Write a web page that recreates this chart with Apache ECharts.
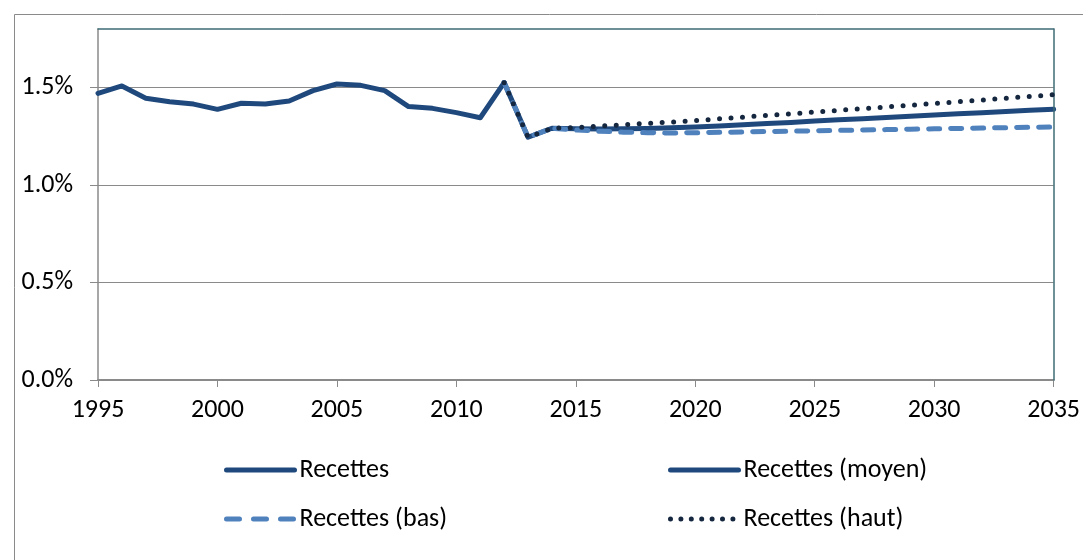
<!DOCTYPE html>
<html>
<head>
<meta charset="utf-8">
<style>
  html, body { margin: 0; padding: 0; background: #ffffff; }
  #chart { width: 1083px; height: 560px; }
</style>
<script src="https://cdn.jsdelivr.net/npm/echarts@6/dist/echarts.min.js"></script>
</head>
<body>
<div id="chart"></div>
<script>
// ---- data (percent of GDP) ----
var histYears = [1995,1996,1997,1998,1999,2000,2001,2002,2003,2004,2005,2006,2007,2008,2009,2010,2011,2012];
var histValues = [1.470,1.508,1.445,1.427,1.415,1.388,1.419,1.415,1.431,1.484,1.518,1.511,1.484,1.402,1.393,1.371,1.345,1.525];

var projYears = [2012,2013,2014,2015,2016,2017,2018,2019,2020,2021,2022,2023,2024,2025,2026,2027,2028,2029,2030,2031,2032,2033,2034,2035];
var moyenValues = [1.525,1.245,1.291,1.288,1.287,1.288,1.290,1.293,1.297,1.303,1.309,1.315,1.321,1.328,1.334,1.340,1.346,1.352,1.359,1.365,1.371,1.377,1.383,1.389];
var basValues   = [1.525,1.245,1.291,1.282,1.276,1.271,1.268,1.267,1.268,1.270,1.272,1.274,1.276,1.278,1.280,1.282,1.284,1.286,1.288,1.290,1.292,1.294,1.296,1.298];
var hautValues  = [1.525,1.245,1.291,1.295,1.302,1.309,1.316,1.323,1.330,1.339,1.348,1.357,1.365,1.374,1.383,1.392,1.400,1.409,1.418,1.427,1.436,1.445,1.454,1.463];

var yTicks = [0, 0.5, 1.0, 1.5];
var seriesNames = ['Recettes', 'Recettes (moyen)', 'Recettes (bas)', 'Recettes (haut)'];

function pairs(xs, ys) { return xs.map(function (x, i) { return [x, ys[i]]; }); }

var FONT = "Carlito, 'Liberation Sans Narrow', 'Arial Narrow', 'Liberation Sans', sans-serif";
var NAVY = '#1f497d';
var LIGHT = '#4f81bd';
var DARK = '#15263f';
var GRID = '#8a8a8a';
var FRAME = '#3e6b75';

var styles = {
  'Recettes':         { color: NAVY,  width: 5, type: 'solid',   legendType: 'solid',  cap: 'round' },
  'Recettes (moyen)': { color: NAVY,  width: 5, type: 'solid',   legendType: 'solid',  cap: 'round' },
  'Recettes (bas)':   { color: LIGHT, width: 5, type: [11, 11],  legendType: [13, 14], cap: 'round' },
  'Recettes (haut)':  { color: DARK,  width: 5, type: [0, 11.5], legendType: [0, 10.4], cap: 'round' }
};

function legendItem(name) {
  var s = styles[name];
  return {
    name: name,
    itemStyle: { opacity: 0 },
    lineStyle: { color: s.color, width: s.width, type: s.legendType, cap: s.cap, opacity: 1 }
  };
}

function lineSeries(name, xs, ys, z) {
  var s = styles[name];
  return {
    name: name, type: 'line', data: pairs(xs, ys), symbol: 'none', z: z,
    lineStyle: { color: s.color, width: s.width, type: s.type, cap: s.cap, join: 'round' },
    itemStyle: { color: s.color }
  };
}

var chart = echarts.init(document.getElementById('chart'), null, { renderer: 'canvas' });
chart.setOption({
  animation: false,
  backgroundColor: '#ffffff',
  graphic: [{
    type: 'rect', left: 12, top: 12, z: -10,
    shape: { width: 1200, height: 700 },
    style: { fill: 'none', stroke: GRID, lineWidth: 1 }
  }],
  grid: { left: 98, top: 29, right: 28, bottom: 180, containLabel: false },
  xAxis: [{
    type: 'value', min: 1995, max: 2035, interval: 5,
    axisLine: { show: true, onZero: false, lineStyle: { color: GRID, width: 2 } },
    axisTick: { show: true, inside: false, length: 7, lineStyle: { color: GRID, width: 1 } },
    axisLabel: { color: '#000', fontFamily: FONT, fontSize: 26, margin: 17, formatter: function (v) { return String(v); } },
    splitLine: { show: false }
  }, {
    type: 'value', min: 1995, max: 2035, interval: 5, position: 'top', z: 5,
    axisLine: { show: true, onZero: false, lineStyle: { color: FRAME, width: 1.5 } },
    axisTick: { show: false }, axisLabel: { show: false }, splitLine: { show: false }
  }],
  yAxis: [{
    type: 'value', min: 0, max: 1.8, interval: 0.5,
    axisLine: { show: true, onZero: false, lineStyle: { color: GRID, width: 1.5 } },
    axisTick: { show: true, length: 8, customValues: yTicks, lineStyle: { color: GRID, width: 1 } },
    axisLabel: { color: '#000', fontFamily: FONT, fontSize: 26, margin: 25, customValues: yTicks,
      formatter: function (v) { return v.toFixed(1) + '%'; } },
    splitLine: { show: true, lineStyle: { color: GRID, width: 1.2 } }
  }, {
    type: 'value', min: 0, max: 1.8, interval: 0.5, position: 'right', z: 5,
    axisLine: { show: true, onZero: false, lineStyle: { color: FRAME, width: 1.5 } },
    axisTick: { show: false }, axisLabel: { show: false }, splitLine: { show: false }
  }],
  legend: [{
    orient: 'vertical', left: 224, top: 457, padding: 0,
    itemWidth: 68, itemHeight: 20, itemGap: 23,
    textStyle: { color: '#000', fontFamily: FONT, fontSize: 26 },
    data: [legendItem(seriesNames[0]), legendItem(seriesNames[2])]
  }, {
    orient: 'vertical', left: 668, top: 457, padding: 0,
    itemWidth: 68, itemHeight: 20, itemGap: 23,
    textStyle: { color: '#000', fontFamily: FONT, fontSize: 26 },
    data: [legendItem(seriesNames[1]), legendItem(seriesNames[3])]
  }],
  series: [
    lineSeries(seriesNames[0], histYears, histValues, 2),
    lineSeries(seriesNames[1], projYears, moyenValues, 3),
    lineSeries(seriesNames[2], projYears, basValues, 4),
    lineSeries(seriesNames[3], projYears, hautValues, 5)
  ]
});
</script>
</body>
</html>
